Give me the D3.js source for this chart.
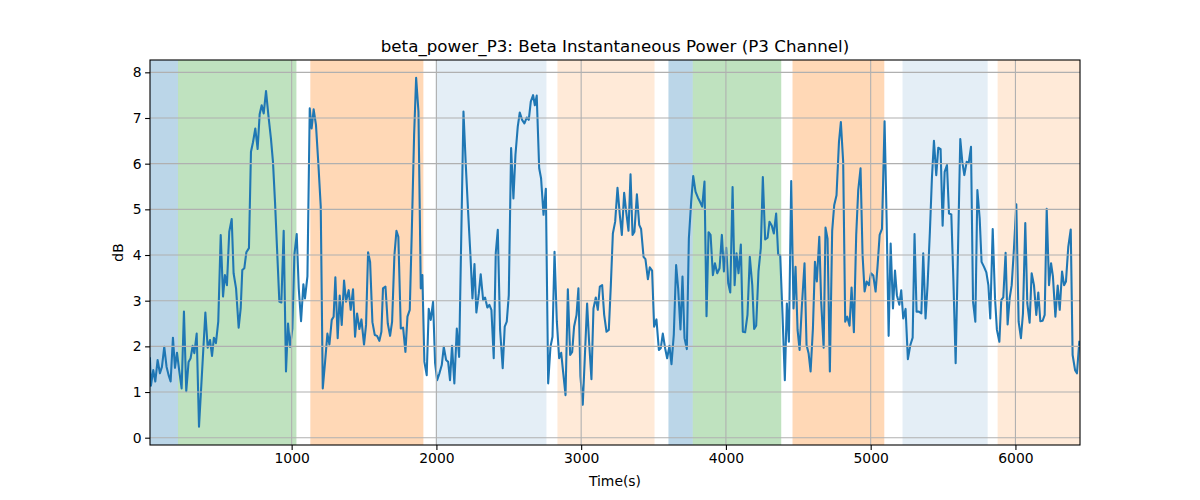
<!DOCTYPE html>
<html>
<head>
<meta charset="utf-8">
<script src="https://cdn.jsdelivr.net/npm/d3@7"></script>
<style>
  html, body { margin: 0; padding: 0; background: #fff; }
  svg { display: block; font-family: "DejaVu Sans", sans-serif; }
</style>
</head>
<body>
<svg id="chart" width="1200" height="500"></svg>
<script>
// ---- data ----
const time = [
  21,28,44,58,74,90,104,120,136,150,164,180,194,208,224,240,256,272,288,302,316,328,344,360,404,420,436,450,463,477,493,510,526,539,553,569,586,599,616,634,648,659,673,687,705,719,733,749,765,779,793,807,823,839,857,871,885,899,915,929,945,961,975,989,1005,1019,1035,1049,1065,
  1081,1092,1109,1125,1138,1152,1168,1185,1201,1215,1231,1247,1261,1277,1290,1302,1318,1332,1346,1362,1376,1394,1408,1424,1438,1452,1468,1482,1500,1514,1528,1542,1558,1574,1590,1606,1620,1631,1648,1664,1680,1694,1710,1724,1737,1754,1770,1786,1800,1816,1830,1846,1860,1876,1892,1903,1917,1933,1947,1961,1977,1991,2005,2021,2037,2051,2067,2081,2094,2108,2124,2141,2157,
  2187,2203,2219,2235,2249,2263,2276,2293,2306,2323,2336,2352,2366,2380,2396,2410,2424,2440,2458,2472,2486,2500,2516,2532,2546,2562,2576,2592,2608,2624,2638,2652,2668,2680,2693,2710,2723,2740,2756,2772,2788,2802,2816,2832,2848,2862,2875,2892,2908,2924,2938,2951,2968,2981,2995,3011,3025,3041,3055,3071,3085,3101,3115,3129,3145,3159,3175,3191,3205,3219,
  3235,3251,3267,3281,3297,3311,3327,3341,3355,3368,3385,3401,3414,3431,3444,3461,3474,3490,3504,3520,3537,3550,3564,3580,3594,3610,3624,3640,3656,3670,3686,3700,3714,3730,3744,3760,3774,3790,3806,3820,3836,3852,3866,3880,3894,3910,3924,3940,3956,3972,3986,4002,4016,4030,4046,4060,4073,4087,4103,4117,4133,4149,4165,4182,4195,4209,4225,4241,4255,4271,4288,4301,
  4317,4331,4347,4361,4375,4391,4407,4421,4435,4451,4467,4481,4495,4509,4525,4543,4557,4571,4585,4601,4615,4628,4645,4658,4675,4688,4702,4718,4734,4748,4764,4781,4794,4810,4824,4838,4854,4868,4884,4900,4914,4930,4944,4958,4972,4988,5002,5018,5034,5048,5062,5078,5096,5110,5124,5138,5154,5168,5181,5198,5211,5225,5241,5257,5274,5290,5303,5317,5333,5350,5363,
  5379,5393,5409,5423,5437,5453,5467,5483,5497,5511,5527,5541,5557,5571,5587,5619,5633,5647,5663,5677,5693,5707,5723,5737,5753,5766,5783,5799,5813,5826,5843,5859,5872,5889,5902,5916,5932,5946,5960,5974,5990,6006,6022,6038,6052,6068,6082,6098,6112,6128,6144,6158,6172,6188,6202,6216,6232,6246,6259,6276,6292,6306,6322,6336,6349,6365,6382,6395,6412,6425,6441
];
const power = [
  1.74,1.14,1.48,1.23,1.70,1.41,1.55,1.99,1.55,1.37,1.23,2.19,1.53,1.86,1.45,1.08,2.76,1.02,1.66,1.74,2.01,1.85,2.28,0.24,2.74,1.97,2.14,1.79,2.19,2.07,2.54,4.44,3.09,3.56,3.34,4.51,4.79,3.60,3.27,2.41,2.83,3.67,3.71,4.06,4.15,6.26,6.47,6.77,6.32,7.08,7.28,7.10,7.59,7.07,6.55,6.04,5.17,4.15,2.98,2.96,4.53,1.45,2.50,1.99,2.39,4.01,4.46,3.27,2.55,
  3.36,3.05,3.53,7.21,6.77,7.19,6.85,5.97,5.06,1.08,1.66,2.28,2.04,2.58,2.65,3.51,2.18,3.11,2.47,3.44,2.98,3.23,2.80,3.25,2.21,2.72,2.38,2.59,2.04,2.47,4.06,3.85,2.53,2.25,2.23,2.12,2.32,3.27,3.31,2.50,2.23,2.54,4.00,4.53,4.40,2.39,2.41,1.88,2.65,2.80,4.51,6.63,7.88,7.14,3.27,3.56,1.66,1.37,2.82,2.58,2.98,1.63,1.26,1.41,1.59,1.99,1.70,1.66,1.26,2.01,1.19,2.39,1.77,
  7.14,5.97,4.95,4.00,3.05,3.80,2.74,3.16,3.58,3.01,3.07,2.85,2.91,2.80,1.74,4.04,4.55,2.36,1.52,2.43,2.54,3.12,6.34,5.24,6.19,6.81,7.12,6.96,6.88,7.01,6.96,7.36,7.50,7.28,7.49,5.90,5.68,4.88,5.45,1.19,1.99,2.21,4.07,2.54,1.74,1.86,1.45,0.93,3.25,1.81,1.88,2.43,2.69,3.27,1.34,0.72,1.74,2.94,2.09,1.28,2.83,3.07,2.80,3.31,3.34,2.69,2.32,2.36,3.34,4.47,
  4.73,5.47,4.88,4.44,5.36,4.95,4.53,5.77,4.44,4.51,5.33,4.66,4.57,3.96,3.91,3.47,3.73,3.66,2.43,2.59,1.92,1.96,2.28,1.96,1.74,2.01,1.61,2.26,3.78,3.27,2.37,3.53,2.18,1.94,4.36,5.17,5.73,5.39,5.26,5.17,5.06,5.61,2.66,4.50,4.44,3.56,3.82,3.60,3.71,4.44,3.64,4.16,3.38,3.18,5.49,3.34,4.04,3.60,4.23,2.32,2.31,2.69,3.96,3.34,2.38,2.45,3.64,4.15,5.71,4.34,4.38,4.73,
  4.64,4.47,4.91,4.01,3.99,2.69,1.26,2.94,2.10,5.62,2.83,3.74,2.36,1.92,2.90,3.82,2.03,1.85,1.45,2.39,3.85,3.42,4.40,2.98,1.97,4.60,4.36,1.45,4.53,5.09,5.31,6.48,6.91,6.04,2.54,2.65,2.45,3.29,2.31,4.44,5.42,5.90,4.00,3.20,3.42,3.34,3.60,3.55,3.20,3.78,4.44,4.57,6.93,4.80,2.23,4.25,2.83,3.66,3.12,2.91,3.23,2.61,2.82,1.72,2.03,2.19,4.46,2.76,2.76,2.72,4.04,
  2.61,3.34,4.51,5.68,6.50,5.75,6.35,6.32,4.64,5.82,5.97,4.91,4.89,3.49,1.63,6.54,6.04,5.75,6.04,6.01,6.37,2.98,2.54,5.42,4.80,3.85,3.74,3.62,3.34,2.61,4.57,3.05,2.36,2.10,3.01,3.07,4.05,2.48,3.05,3.34,4.15,5.11,2.54,2.18,2.72,4.70,2.94,2.52,3.60,3.34,2.69,3.18,2.55,2.56,2.69,5.01,3.34,3.82,3.53,2.65,3.33,2.80,3.64,3.34,3.42,4.18,4.56,1.81,1.48,1.41,2.10
];
// shaded state intervals
const spanStart = [21, 215, 1129, 1995, 2836, 3603, 3771, 4460, 5220, 5877];
const spanEnd   = [215, 1033, 1910, 2760, 3507, 3771, 4382, 5094, 5808, 6446];
const spanState = ["s0", "s1", "s2", "s3", "s4", "s0", "s1", "s2", "s3", "s4"];
const yTicks = [0, 1, 2, 3, 4, 5, 6, 7, 8];
const xTicks = [1000, 2000, 3000, 4000, 5000, 6000];
const titleText = "beta_power_P3: Beta Instantaneous Power (P3 Channel)";
const xLabel = "Time(s)";
const yLabel = "dB";

// ---- styles ----
const stateFill = {
  s0: ["#1f77b4", 0.3],
  s1: ["#2ca02c", 0.3],
  s2: ["#ff7f0e", 0.3],
  s3: ["#1f77b4", 0.12],
  s4: ["#ff7f0e", 0.16]
};

const svg = d3.select("#chart");
const m = { left: 150, right: 1080, top: 60, bottom: 445 };
const x = d3.scaleLinear().domain([21.5, 6446]).range([m.left, m.right]);
const y = d3.scaleLinear().domain([-0.16, 8.27]).range([m.bottom, m.top]);

svg.append("defs").append("clipPath").attr("id", "clip")
  .append("rect").attr("x", m.left).attr("y", m.top)
  .attr("width", m.right - m.left).attr("height", m.bottom - m.top);

const plot = svg.append("g").attr("clip-path", "url(#clip)");

// spans
const spans = spanStart.map((s, i) => ({ s, e: spanEnd[i], st: spanState[i] }));
plot.selectAll("rect.span").data(spans).enter().append("rect")
  .attr("class", "span")
  .attr("x", d => x(d.s))
  .attr("width", d => x(d.e) - x(d.s))
  .attr("y", m.top).attr("height", m.bottom - m.top)
  .attr("fill", d => stateFill[d.st][0])
  .attr("fill-opacity", d => stateFill[d.st][1]);

// grid
const grid = svg.append("g");
grid.selectAll("line.gx").data(xTicks).enter().append("line")
  .attr("x1", d => x(d)).attr("x2", d => x(d))
  .attr("y1", m.top).attr("y2", m.bottom)
  .attr("stroke", "#b0b0b0").attr("stroke-width", 1.1);
grid.selectAll("line.gy").data(yTicks).enter().append("line")
  .attr("y1", d => y(d)).attr("y2", d => y(d))
  .attr("x1", m.left).attr("x2", m.right)
  .attr("stroke", "#b0b0b0").attr("stroke-width", 1.1);

// line
const pts = time.map((t, i) => [t, power[i]]);
plot.append("path").datum(pts)
  .attr("fill", "none").attr("stroke", "#1f77b4").attr("stroke-width", 2.08)
  .attr("stroke-linejoin", "round").attr("stroke-linecap", "square")
  .attr("d", d3.line().x(d => x(d[0])).y(d => y(d[1])));

// frame
svg.append("rect").attr("x", m.left).attr("y", m.top)
  .attr("width", m.right - m.left).attr("height", m.bottom - m.top)
  .attr("fill", "none").attr("stroke", "#000").attr("stroke-width", 1.1);

// axes
const xAxis = svg.append("g").attr("transform", `translate(0,${m.bottom})`)
  .call(d3.axisBottom(x).tickValues(xTicks).tickSize(4.9).tickPadding(3.5).tickFormat(d3.format("d")));
const yAxis = svg.append("g").attr("transform", `translate(${m.left},0)`)
  .call(d3.axisLeft(y).tickValues(yTicks).tickSize(4.9).tickPadding(3.5).tickFormat(d3.format("d")));
[xAxis, yAxis].forEach(a => {
  a.select(".domain").remove();
  a.selectAll(".tick line").attr("stroke", "#000").attr("stroke-width", 1.1);
  a.selectAll(".tick text").attr("font-size", "13.9px").attr("fill", "#000")
    .attr("font-family", "DejaVu Sans, sans-serif");
});

// labels
svg.append("text").attr("x", (m.left + m.right) / 2).attr("y", 52)
  .attr("text-anchor", "middle").attr("font-size", "16.7px").attr("fill", "#000")
  .text(titleText);
svg.append("text").attr("x", (m.left + m.right) / 2).attr("y", 486)
  .attr("text-anchor", "middle").attr("font-size", "13.9px").attr("fill", "#000")
  .text(xLabel);
svg.append("text").attr("transform", `translate(123,${(m.top + m.bottom) / 2}) rotate(-90)`)
  .attr("text-anchor", "middle").attr("font-size", "13.9px").attr("fill", "#000")
  .text(yLabel);
</script>
</body>
</html>
